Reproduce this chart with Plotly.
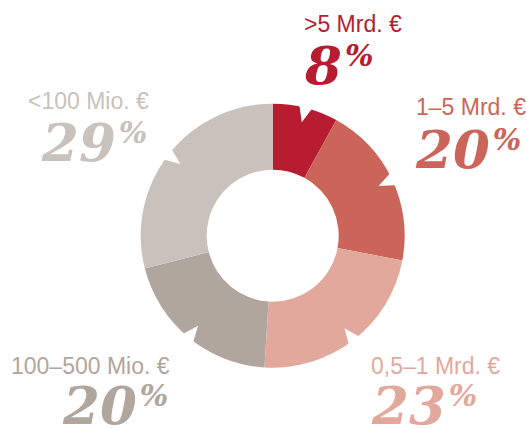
import math
import plotly.graph_objects as go

# ---- data ----
categories = [">5 Mrd. €", "1–5 Mrd. €", "0,5–1 Mrd. €", "100–500 Mio. €", "<100 Mio. €"]
label_text = ["&gt;5 Mrd. €", "1–5 Mrd. €", "0,5–1 Mrd. €", "100–500 Mio. €", "&lt;100 Mio. €"]
shares = [8, 20, 23, 20, 29]
colors = ["#B71C30", "#CC6559", "#E3A89C", "#B0A69D", "#C9C1BB"]

# ---- geometry (pixels) ----
W, H = 527, 428
CX, CY, R = 272.7, 235.7, 132.0
HOLE = 0.5


def px(x):
    return x / W


def py(y):
    return 1 - y / H


fig = go.Figure(
    go.Pie(
        values=shares,
        labels=categories,
        sort=False,
        direction="clockwise",
        rotation=0,
        hole=HOLE,
        marker=dict(colors=colors, line=dict(width=0)),
        textinfo="none",
        hoverinfo="label+percent",
        domain=dict(x=[px(CX - R), px(CX + R)], y=[py(CY + R), py(CY - R)]),
        showlegend=False,
    )
)

# ---- notches at the middle of each slice ----
shapes = []
total = sum(shares)
cum = 0
for v in shares:
    mid = (cum + v / 2) / total * 2 * math.pi
    cum += v
    dx, dy = math.sin(mid), -math.cos(mid)
    tx, ty = math.cos(mid), math.sin(mid)
    tip = (CX + (R - 15) * dx, CY + (R - 15) * dy)
    b1 = (CX + (R + 8) * dx + 9.5 * tx, CY + (R + 8) * dy + 9.5 * ty)
    b2 = (CX + (R + 8) * dx - 9.5 * tx, CY + (R + 8) * dy - 9.5 * ty)
    path = "M {:.5f},{:.5f} L {:.5f},{:.5f} L {:.5f},{:.5f} Z".format(
        px(tip[0]), py(tip[1]), px(b1[0]), py(b1[1]), px(b2[0]), py(b2[1])
    )
    shapes.append(dict(type="path", xref="paper", yref="paper", path=path,
                       fillcolor="white", line=dict(width=0), layer="above"))

# ---- labels (layout positions in pixels) ----
label_pos = [
    # (anchor, label x, label y, number x, number y)
    ("left", 302, 24.5, 302, 65),
    ("left", 414, 107.5, 413, 149),
    ("left", 369, 365.5, 369, 405),
    ("right", 172, 365.5, 170, 405),
    ("right", 151, 100.8, 149, 142),
]

annotations = []
for txt, v, col, (anc, lx, ly, nx, ny) in zip(label_text, shares, colors, label_pos):
    annotations.append(dict(
        x=px(lx), y=py(ly), xref="paper", yref="paper", xanchor=anc, yanchor="middle",
        text=txt, showarrow=False,
        font=dict(family="Liberation Sans, Arial, sans-serif", size=23, color=col),
    ))
    annotations.append(dict(
        x=px(nx), y=py(ny), xref="paper", yref="paper", xanchor=anc, yanchor="middle",
        text="<span style='font-size:53px'>{}</span><sup><span style='font-size:30px'>\u200a%</span></sup>".format(v),
        showarrow=False,
        font=dict(family="DejaVu Serif, serif", size=43, color=col, weight="bold", style="italic"),
    ))

fig.update_layout(
    width=W, height=H,
    margin=dict(l=0, r=0, t=0, b=0),
    paper_bgcolor="white", plot_bgcolor="white",
    shapes=shapes, annotations=annotations,
)

fig.write_html("out.html", config={"displayModeBar": False},
               post_script="document.body.style.margin='0';document.body.style.overflow='hidden';")
